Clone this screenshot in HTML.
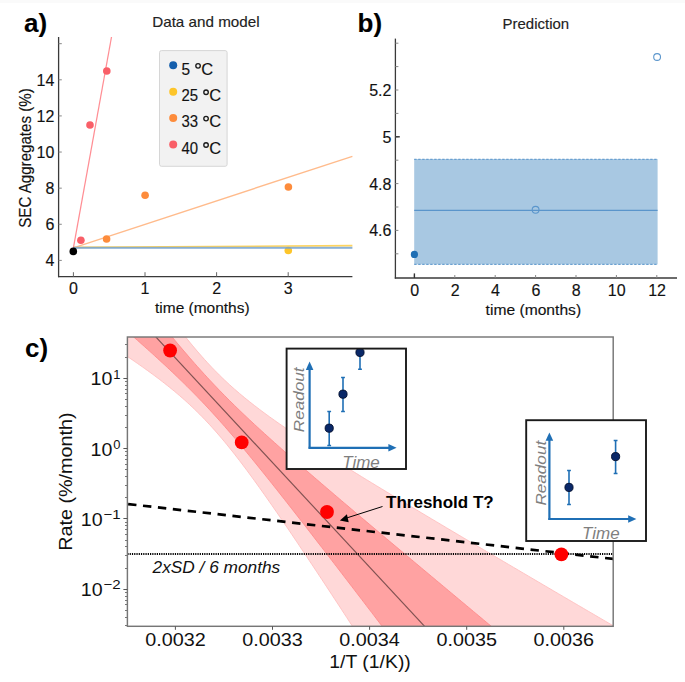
<!DOCTYPE html>
<html><head><meta charset="utf-8"><style>
html,body{margin:0;padding:0;background:#fff;width:685px;height:682px;overflow:hidden}
svg{display:block;font-family:"Liberation Sans",sans-serif}
.t text{stroke:#222;stroke-width:0.15px}
</style></head><body>
<svg width="685" height="682" viewBox="0 0 685 682" font-family="Liberation Sans, sans-serif"><rect x="0" y="0" width="685" height="3" fill="#fafafa"/>
<g class="t">
<text x="24.00" y="31.80" font-size="26" text-anchor="start" font-weight="bold" font-style="normal" fill="#000" >a)</text>
<text x="152.20" y="27.00" font-size="15" text-anchor="start" font-weight="normal" font-style="normal" fill="#222" textLength="107.4" lengthAdjust="spacingAndGlyphs" >Data and model</text>
<line x1="73.40" y1="247.40" x2="352.40" y2="245.60" stroke="#ffd45e" stroke-width="1.6" />
<line x1="73.40" y1="247.80" x2="352.40" y2="156.30" stroke="#ffbb8c" stroke-width="1.35" />
<line x1="73.40" y1="247.80" x2="111.50" y2="37.00" stroke="#ff8e94" stroke-width="1.25" />
<circle cx="80.90" cy="240.30" r="3.8" fill="#f95f68" />
<circle cx="90.00" cy="125.00" r="3.8" fill="#f95f68" />
<circle cx="106.80" cy="71.00" r="3.8" fill="#f95f68" />
<circle cx="106.60" cy="239.00" r="3.8" fill="#fd8c3c" />
<circle cx="145.10" cy="195.20" r="3.8" fill="#fd8c3c" />
<circle cx="288.40" cy="187.00" r="3.8" fill="#fd8c3c" />
<circle cx="288.30" cy="250.50" r="3.8" fill="#fdc52a" />
<rect x="73.4" y="246.8" width="279" height="2" fill="#76a3d0" fill-opacity="0.85"/>
<circle cx="73.30" cy="251.40" r="3.8" fill="#000" />
<line x1="58.60" y1="37.00" x2="58.60" y2="277.20" stroke="#3a3a3a" stroke-width="1.3" />
<line x1="58.00" y1="276.60" x2="352.40" y2="276.60" stroke="#3a3a3a" stroke-width="1.3" />
<line x1="58.60" y1="260.40" x2="61.80" y2="260.40" stroke="#888" stroke-width="1" />
<line x1="58.60" y1="224.28" x2="61.80" y2="224.28" stroke="#888" stroke-width="1" />
<line x1="58.60" y1="188.16" x2="61.80" y2="188.16" stroke="#888" stroke-width="1" />
<line x1="58.60" y1="152.04" x2="61.80" y2="152.04" stroke="#888" stroke-width="1" />
<line x1="58.60" y1="115.92" x2="61.80" y2="115.92" stroke="#888" stroke-width="1" />
<line x1="58.60" y1="79.80" x2="61.80" y2="79.80" stroke="#888" stroke-width="1" />
<line x1="58.60" y1="43.68" x2="61.80" y2="43.68" stroke="#888" stroke-width="1" />
<line x1="73.40" y1="272.20" x2="73.40" y2="276.60" stroke="#666" stroke-width="1" />
<line x1="145.00" y1="272.20" x2="145.00" y2="276.60" stroke="#666" stroke-width="1" />
<line x1="216.60" y1="272.20" x2="216.60" y2="276.60" stroke="#666" stroke-width="1" />
<line x1="288.20" y1="272.20" x2="288.20" y2="276.60" stroke="#666" stroke-width="1" />
<text x="54.40" y="266.30" font-size="16" text-anchor="end" font-weight="normal" font-style="normal" fill="#111" >4</text>
<text x="54.40" y="230.18" font-size="16" text-anchor="end" font-weight="normal" font-style="normal" fill="#111" >6</text>
<text x="54.40" y="194.06" font-size="16" text-anchor="end" font-weight="normal" font-style="normal" fill="#111" >8</text>
<text x="54.40" y="157.94" font-size="16" text-anchor="end" font-weight="normal" font-style="normal" fill="#111" >10</text>
<text x="54.40" y="121.82" font-size="16" text-anchor="end" font-weight="normal" font-style="normal" fill="#111" >12</text>
<text x="54.40" y="85.70" font-size="16" text-anchor="end" font-weight="normal" font-style="normal" fill="#111" >14</text>
<text x="73.40" y="293.80" font-size="16" text-anchor="middle" font-weight="normal" font-style="normal" fill="#111" >0</text>
<text x="145.00" y="293.80" font-size="16" text-anchor="middle" font-weight="normal" font-style="normal" fill="#111" >1</text>
<text x="216.60" y="293.80" font-size="16" text-anchor="middle" font-weight="normal" font-style="normal" fill="#111" >2</text>
<text x="288.20" y="293.80" font-size="16" text-anchor="middle" font-weight="normal" font-style="normal" fill="#111" >3</text>
<text x="155.00" y="313.00" font-size="14.5" text-anchor="start" font-weight="normal" font-style="normal" fill="#111" textLength="94.6" lengthAdjust="spacingAndGlyphs" >time (months)</text>
<text transform="translate(31.3,158) rotate(-90)" x="0" y="0" font-size="16.3" text-anchor="middle" fill="#111" textLength="139.5" lengthAdjust="spacingAndGlyphs">SEC Aggregates (%)</text>
<rect x="159.5" y="50.6" width="67.6" height="115.7" rx="2" fill="#f2f2f2" stroke="#d6d6d6" stroke-width="1"/>
<circle cx="173.20" cy="65.30" r="4.0" fill="#155fac" />
<text x="181.50" y="74.60" font-size="16.5" text-anchor="start" font-weight="normal" font-style="normal" fill="#111" textLength="8.6" lengthAdjust="spacingAndGlyphs" >5</text>
<circle cx="198.05" cy="65.80" r="2.25" fill="none" stroke="#1a1a1a" stroke-width="1.35"/>
<text x="201.30" y="74.60" font-size="16.5" text-anchor="start" font-weight="normal" font-style="normal" fill="#111" >C</text>
<circle cx="173.20" cy="91.70" r="4.0" fill="#fdc52a" />
<text x="181.50" y="101.00" font-size="16.5" text-anchor="start" font-weight="normal" font-style="normal" fill="#111" textLength="16.6" lengthAdjust="spacingAndGlyphs" >25</text>
<circle cx="206.05" cy="92.20" r="2.25" fill="none" stroke="#1a1a1a" stroke-width="1.35"/>
<text x="209.30" y="101.00" font-size="16.5" text-anchor="start" font-weight="normal" font-style="normal" fill="#111" >C</text>
<circle cx="173.20" cy="118.10" r="4.0" fill="#fd8c3c" />
<text x="181.50" y="127.40" font-size="16.5" text-anchor="start" font-weight="normal" font-style="normal" fill="#111" textLength="16.6" lengthAdjust="spacingAndGlyphs" >33</text>
<circle cx="206.05" cy="118.60" r="2.25" fill="none" stroke="#1a1a1a" stroke-width="1.35"/>
<text x="209.30" y="127.40" font-size="16.5" text-anchor="start" font-weight="normal" font-style="normal" fill="#111" >C</text>
<circle cx="173.20" cy="144.50" r="4.0" fill="#f95f68" />
<text x="181.50" y="153.80" font-size="16.5" text-anchor="start" font-weight="normal" font-style="normal" fill="#111" textLength="16.6" lengthAdjust="spacingAndGlyphs" >40</text>
<circle cx="206.05" cy="145.00" r="2.25" fill="none" stroke="#1a1a1a" stroke-width="1.35"/>
<text x="209.30" y="153.80" font-size="16.5" text-anchor="start" font-weight="normal" font-style="normal" fill="#111" >C</text>
<text x="357.60" y="31.60" font-size="26" text-anchor="start" font-weight="bold" font-style="normal" fill="#000" >b)</text>
<text x="502.60" y="28.60" font-size="15" text-anchor="start" font-weight="normal" font-style="normal" fill="#222" textLength="66.5" lengthAdjust="spacingAndGlyphs" >Prediction</text>
<rect x="414.2" y="159" width="243.4" height="105.4" fill="#a8c8e2"/>
<line x1="414.20" y1="159.40" x2="657.60" y2="159.40" stroke="#6aa0d0" stroke-width="1.3" stroke-dasharray="2.4 1.6"/>
<line x1="414.20" y1="264.30" x2="657.60" y2="264.30" stroke="#6aa0d0" stroke-width="1.3" stroke-dasharray="2.4 1.6"/>
<line x1="414.20" y1="210.40" x2="657.60" y2="210.40" stroke="#5a95cb" stroke-width="1.25" />
<circle cx="414.40" cy="254.40" r="3.6" fill="#1f6fb4" />
<circle cx="535.6" cy="209.8" r="3.4" fill="none" stroke="#5b96cc" stroke-width="1.1"/>
<circle cx="657.1" cy="57" r="3.4" fill="none" stroke="#5b96cc" stroke-width="1.1"/>
<line x1="395.40" y1="38.60" x2="395.40" y2="278.60" stroke="#3a3a3a" stroke-width="1.3" />
<line x1="394.80" y1="278.00" x2="677.00" y2="278.00" stroke="#3a3a3a" stroke-width="1.3" />
<line x1="395.40" y1="253.80" x2="398.40" y2="253.80" stroke="#888" stroke-width="1" />
<line x1="395.40" y1="230.40" x2="398.40" y2="230.40" stroke="#888" stroke-width="1" />
<line x1="395.40" y1="207.00" x2="398.40" y2="207.00" stroke="#888" stroke-width="1" />
<line x1="395.40" y1="183.60" x2="398.40" y2="183.60" stroke="#888" stroke-width="1" />
<line x1="395.40" y1="160.20" x2="398.40" y2="160.20" stroke="#888" stroke-width="1" />
<line x1="395.40" y1="136.80" x2="398.40" y2="136.80" stroke="#888" stroke-width="1" />
<line x1="395.40" y1="113.40" x2="398.40" y2="113.40" stroke="#888" stroke-width="1" />
<line x1="395.40" y1="90.00" x2="398.40" y2="90.00" stroke="#888" stroke-width="1" />
<line x1="395.40" y1="66.60" x2="398.40" y2="66.60" stroke="#888" stroke-width="1" />
<line x1="395.40" y1="43.20" x2="398.40" y2="43.20" stroke="#888" stroke-width="1" />
<line x1="395.40" y1="136.80" x2="399.80" y2="136.80" stroke="#333" stroke-width="1.4" />
<text x="391.40" y="236.30" font-size="16" text-anchor="end" font-weight="normal" font-style="normal" fill="#111" >4.6</text>
<text x="391.40" y="189.50" font-size="16" text-anchor="end" font-weight="normal" font-style="normal" fill="#111" >4.8</text>
<text x="391.40" y="142.70" font-size="16" text-anchor="end" font-weight="normal" font-style="normal" fill="#111" >5</text>
<text x="391.40" y="95.90" font-size="16" text-anchor="end" font-weight="normal" font-style="normal" fill="#111" >5.2</text>
<line x1="414.40" y1="275.00" x2="414.40" y2="278.00" stroke="#888" stroke-width="1" />
<text x="414.70" y="295.60" font-size="16" text-anchor="middle" font-weight="normal" font-style="normal" fill="#111" >0</text>
<line x1="454.80" y1="275.00" x2="454.80" y2="278.00" stroke="#888" stroke-width="1" />
<text x="455.10" y="295.60" font-size="16" text-anchor="middle" font-weight="normal" font-style="normal" fill="#111" >2</text>
<line x1="495.20" y1="275.00" x2="495.20" y2="278.00" stroke="#888" stroke-width="1" />
<text x="495.50" y="295.60" font-size="16" text-anchor="middle" font-weight="normal" font-style="normal" fill="#111" >4</text>
<line x1="535.60" y1="275.00" x2="535.60" y2="278.00" stroke="#888" stroke-width="1" />
<text x="535.90" y="295.60" font-size="16" text-anchor="middle" font-weight="normal" font-style="normal" fill="#111" >6</text>
<line x1="576.00" y1="275.00" x2="576.00" y2="278.00" stroke="#888" stroke-width="1" />
<text x="576.30" y="295.60" font-size="16" text-anchor="middle" font-weight="normal" font-style="normal" fill="#111" >8</text>
<line x1="616.40" y1="275.00" x2="616.40" y2="278.00" stroke="#888" stroke-width="1" />
<text x="616.70" y="295.60" font-size="16" text-anchor="middle" font-weight="normal" font-style="normal" fill="#111" >10</text>
<line x1="656.80" y1="275.00" x2="656.80" y2="278.00" stroke="#888" stroke-width="1" />
<text x="657.10" y="295.60" font-size="16" text-anchor="middle" font-weight="normal" font-style="normal" fill="#111" >12</text>
<line x1="414.40" y1="273.40" x2="414.40" y2="278.00" stroke="#333" stroke-width="1.4" />
<text x="485.60" y="315.00" font-size="14.5" text-anchor="start" font-weight="normal" font-style="normal" fill="#111" textLength="95.5" lengthAdjust="spacingAndGlyphs" >time (months)</text>
</g>
<text x="25.00" y="357.00" font-size="26" text-anchor="start" font-weight="bold" font-style="normal" fill="#000" >c)</text>
<clipPath id="cc"><rect x="127.4" y="337" width="485.80000000000007" height="289.29999999999995"/></clipPath>
<g clip-path="url(#cc)">
<path d="M122.40,248.71 L124.89,252.41 L127.38,256.09 L129.87,259.77 L132.37,263.43 L134.86,267.08 L137.35,270.72 L139.84,274.35 L142.33,277.96 L144.82,281.55 L147.31,285.13 L149.81,288.69 L152.30,292.23 L154.79,295.75 L157.28,299.25 L159.77,302.73 L162.26,306.18 L164.75,309.61 L167.25,313.01 L169.74,316.38 L172.23,319.72 L174.72,323.03 L177.21,326.30 L179.70,329.54 L182.19,332.74 L184.69,335.90 L187.18,339.02 L189.67,342.10 L192.16,345.13 L194.65,348.12 L197.14,351.05 L199.64,353.94 L202.13,356.78 L204.62,359.57 L207.11,362.31 L209.60,364.99 L212.09,367.63 L214.58,370.21 L217.08,372.74 L219.57,375.23 L222.06,377.66 L224.55,380.04 L227.04,382.38 L229.53,384.68 L232.02,386.93 L234.52,389.14 L237.01,391.31 L239.50,393.44 L241.99,395.53 L244.48,397.59 L246.97,399.62 L249.46,401.62 L251.96,403.59 L254.45,405.53 L256.94,407.45 L259.43,409.34 L261.92,411.21 L264.41,413.05 L266.90,414.88 L269.40,416.69 L271.89,418.48 L274.38,420.25 L276.87,422.01 L279.36,423.75 L281.85,425.48 L284.34,427.20 L286.84,428.90 L289.33,430.59 L291.82,432.27 L294.31,433.94 L296.80,435.61 L299.29,437.26 L301.78,438.90 L304.28,440.54 L306.77,442.16 L309.26,443.78 L311.75,445.40 L314.24,447.01 L316.73,448.61 L319.23,450.20 L321.72,451.79 L324.21,453.37 L326.70,454.95 L329.19,456.53 L331.68,458.10 L334.17,459.66 L336.67,461.22 L339.16,462.78 L341.65,464.34 L344.14,465.89 L346.63,467.43 L349.12,468.98 L351.61,470.52 L354.11,472.05 L356.60,473.59 L359.09,475.12 L361.58,476.65 L364.07,478.18 L366.56,479.70 L369.05,481.22 L371.55,482.74 L374.04,484.26 L376.53,485.78 L379.02,487.29 L381.51,488.80 L384.00,490.31 L386.49,491.82 L388.99,493.33 L391.48,494.83 L393.97,496.33 L396.46,497.84 L398.95,499.34 L401.44,500.84 L403.93,502.33 L406.43,503.83 L408.92,505.32 L411.41,506.82 L413.90,508.31 L416.39,509.80 L418.88,511.29 L421.37,512.78 L423.87,514.27 L426.36,515.76 L428.85,517.25 L431.34,518.73 L433.83,520.22 L436.32,521.70 L438.82,523.18 L441.31,524.67 L443.80,526.15 L446.29,527.63 L448.78,529.11 L451.27,530.59 L453.76,532.06 L456.26,533.54 L458.75,535.02 L461.24,536.50 L463.73,537.97 L466.22,539.45 L468.71,540.92 L471.20,542.39 L473.70,543.87 L476.19,545.34 L478.68,546.81 L481.17,548.29 L483.66,549.76 L486.15,551.23 L488.64,552.70 L491.14,554.17 L493.63,555.64 L496.12,557.11 L498.61,558.57 L501.10,560.04 L503.59,561.51 L506.08,562.98 L508.58,564.44 L511.07,565.91 L513.56,567.38 L516.05,568.84 L518.54,570.31 L521.03,571.77 L523.52,573.24 L526.02,574.70 L528.51,576.16 L531.00,577.63 L533.49,579.09 L535.98,580.55 L538.47,582.02 L540.96,583.48 L543.46,584.94 L545.95,586.40 L548.44,587.87 L550.93,589.33 L553.42,590.79 L555.91,592.25 L558.41,593.71 L560.90,595.17 L563.39,596.63 L565.88,598.09 L568.37,599.55 L570.86,601.01 L573.35,602.47 L575.85,603.93 L578.34,605.38 L580.83,606.84 L583.32,608.30 L585.81,609.76 L588.30,611.22 L590.79,612.67 L593.29,614.13 L595.78,615.59 L598.27,617.05 L600.76,618.50 L603.25,619.96 L605.74,621.42 L608.23,622.87 L610.73,624.33 L613.22,625.79 L615.71,627.24 L618.20,628.70 L618.20,1040.92 L615.71,1037.01 L613.22,1033.10 L610.73,1029.19 L608.23,1025.28 L605.74,1021.38 L603.25,1017.47 L600.76,1013.56 L598.27,1009.65 L595.78,1005.74 L593.29,1001.83 L590.79,997.92 L588.30,994.02 L585.81,990.11 L583.32,986.20 L580.83,982.29 L578.34,978.39 L575.85,974.48 L573.35,970.57 L570.86,966.67 L568.37,962.76 L565.88,958.85 L563.39,954.95 L560.90,951.04 L558.41,947.14 L555.91,943.23 L553.42,939.33 L550.93,935.42 L548.44,931.52 L545.95,927.61 L543.46,923.71 L540.96,919.81 L538.47,915.90 L535.98,912.00 L533.49,908.10 L531.00,904.20 L528.51,900.29 L526.02,896.39 L523.52,892.49 L521.03,888.59 L518.54,884.69 L516.05,880.79 L513.56,876.89 L511.07,872.99 L508.58,869.09 L506.08,865.19 L503.59,861.29 L501.10,857.39 L498.61,853.50 L496.12,849.60 L493.63,845.70 L491.14,841.81 L488.64,837.91 L486.15,834.02 L483.66,830.12 L481.17,826.23 L478.68,822.33 L476.19,818.44 L473.70,814.55 L471.20,810.65 L468.71,806.76 L466.22,802.87 L463.73,798.98 L461.24,795.09 L458.75,791.20 L456.26,787.31 L453.76,783.43 L451.27,779.54 L448.78,775.65 L446.29,771.77 L443.80,767.88 L441.31,764.00 L438.82,760.11 L436.32,756.23 L433.83,752.35 L431.34,748.47 L428.85,744.59 L426.36,740.71 L423.87,736.83 L421.37,732.95 L418.88,729.08 L416.39,725.20 L413.90,721.33 L411.41,717.46 L408.92,713.58 L406.43,709.71 L403.93,705.84 L401.44,701.98 L398.95,698.11 L396.46,694.24 L393.97,690.38 L391.48,686.52 L388.99,682.66 L386.49,678.80 L384.00,674.94 L381.51,671.09 L379.02,667.23 L376.53,663.38 L374.04,659.53 L371.55,655.68 L369.05,651.84 L366.56,647.99 L364.07,644.15 L361.58,640.31 L359.09,636.48 L356.60,632.64 L354.11,628.81 L351.61,624.98 L349.12,621.16 L346.63,617.34 L344.14,613.52 L341.65,609.70 L339.16,605.89 L336.67,602.08 L334.17,598.28 L331.68,594.48 L329.19,590.68 L326.70,586.89 L324.21,583.10 L321.72,579.32 L319.23,575.55 L316.73,571.78 L314.24,568.01 L311.75,564.25 L309.26,560.50 L306.77,556.75 L304.28,553.02 L301.78,549.29 L299.29,545.56 L296.80,541.85 L294.31,538.15 L291.82,534.45 L289.33,530.77 L286.84,527.09 L284.34,523.43 L281.85,519.78 L279.36,516.15 L276.87,512.52 L274.38,508.92 L271.89,505.32 L269.40,501.75 L266.90,498.19 L264.41,494.65 L261.92,491.13 L259.43,487.64 L256.94,484.16 L254.45,480.71 L251.96,477.29 L249.46,473.89 L246.97,470.52 L244.48,467.19 L241.99,463.88 L239.50,460.61 L237.01,457.38 L234.52,454.18 L232.02,451.02 L229.53,447.91 L227.04,444.84 L224.55,441.81 L222.06,438.83 L219.57,435.90 L217.08,433.01 L214.58,430.18 L212.09,427.40 L209.60,424.67 L207.11,421.99 L204.62,419.36 L202.13,416.78 L199.64,414.26 L197.14,411.78 L194.65,409.35 L192.16,406.97 L189.67,404.64 L187.18,402.35 L184.69,400.10 L182.19,397.90 L179.70,395.73 L177.21,393.61 L174.72,391.52 L172.23,389.46 L169.74,387.43 L167.25,385.44 L164.75,383.47 L162.26,381.54 L159.77,379.62 L157.28,377.73 L154.79,375.87 L152.30,374.02 L149.81,372.20 L147.31,370.39 L144.82,368.61 L142.33,366.83 L139.84,365.08 L137.35,363.34 L134.86,361.61 L132.37,359.89 L129.87,358.19 L127.38,356.50 L124.89,354.82 L122.40,353.15Z" fill="#ffd8d8" stroke="#ffc0c0" stroke-width="0.9"/>
<path d="M122.40,274.78 L124.89,277.97 L127.38,281.16 L129.87,284.33 L132.37,287.51 L134.86,290.68 L137.35,293.84 L139.84,296.99 L142.33,300.14 L144.82,303.28 L147.31,306.41 L149.81,309.53 L152.30,312.65 L154.79,315.75 L157.28,318.84 L159.77,321.92 L162.26,324.99 L164.75,328.05 L167.25,331.10 L169.74,334.12 L172.23,337.14 L174.72,340.14 L177.21,343.12 L179.70,346.08 L182.19,349.02 L184.69,351.95 L187.18,354.85 L189.67,357.74 L192.16,360.60 L194.65,363.43 L197.14,366.25 L199.64,369.04 L202.13,371.80 L204.62,374.54 L207.11,377.25 L209.60,379.94 L212.09,382.60 L214.58,385.24 L217.08,387.85 L219.57,390.43 L222.06,392.99 L224.55,395.53 L227.04,398.04 L229.53,400.53 L232.02,403.00 L234.52,405.45 L237.01,407.88 L239.50,410.29 L241.99,412.68 L244.48,415.05 L246.97,417.41 L249.46,419.75 L251.96,422.08 L254.45,424.39 L256.94,426.69 L259.43,428.98 L261.92,431.26 L264.41,433.52 L266.90,435.78 L269.40,438.03 L271.89,440.26 L274.38,442.49 L276.87,444.71 L279.36,446.93 L281.85,449.13 L284.34,451.33 L286.84,453.53 L289.33,455.72 L291.82,457.90 L294.31,460.08 L296.80,462.25 L299.29,464.42 L301.78,466.58 L304.28,468.74 L306.77,470.89 L309.26,473.05 L311.75,475.19 L314.24,477.34 L316.73,479.48 L319.23,481.62 L321.72,483.76 L324.21,485.89 L326.70,488.02 L329.19,490.15 L331.68,492.28 L334.17,494.40 L336.67,496.52 L339.16,498.64 L341.65,500.76 L344.14,502.88 L346.63,504.99 L349.12,507.11 L351.61,509.22 L354.11,511.33 L356.60,513.44 L359.09,515.55 L361.58,517.65 L364.07,519.76 L366.56,521.86 L369.05,523.96 L371.55,526.07 L374.04,528.17 L376.53,530.26 L379.02,532.36 L381.51,534.46 L384.00,536.56 L386.49,538.65 L388.99,540.75 L391.48,542.84 L393.97,544.94 L396.46,547.03 L398.95,549.12 L401.44,551.21 L403.93,553.30 L406.43,555.39 L408.92,557.48 L411.41,559.57 L413.90,561.66 L416.39,563.74 L418.88,565.83 L421.37,567.92 L423.87,570.00 L426.36,572.09 L428.85,574.17 L431.34,576.26 L433.83,578.34 L436.32,580.42 L438.82,582.51 L441.31,584.59 L443.80,586.67 L446.29,588.75 L448.78,590.84 L451.27,592.92 L453.76,595.00 L456.26,597.08 L458.75,599.16 L461.24,601.24 L463.73,603.32 L466.22,605.40 L468.71,607.47 L471.20,609.55 L473.70,611.63 L476.19,613.71 L478.68,615.79 L481.17,617.86 L483.66,619.94 L486.15,622.02 L488.64,624.10 L491.14,626.17 L493.63,628.25 L496.12,630.32 L498.61,632.40 L501.10,634.47 L503.59,636.55 L506.08,638.63 L508.58,640.70 L511.07,642.78 L513.56,644.85 L516.05,646.92 L518.54,649.00 L521.03,651.07 L523.52,653.15 L526.02,655.22 L528.51,657.29 L531.00,659.37 L533.49,661.44 L535.98,663.51 L538.47,665.59 L540.96,667.66 L543.46,669.73 L545.95,671.80 L548.44,673.88 L550.93,675.95 L553.42,678.02 L555.91,680.09 L558.41,682.16 L560.90,684.24 L563.39,686.31 L565.88,688.38 L568.37,690.45 L570.86,692.52 L573.35,694.59 L575.85,696.66 L578.34,698.73 L580.83,700.80 L583.32,702.88 L585.81,704.95 L588.30,707.02 L590.79,709.09 L593.29,711.16 L595.78,713.23 L598.27,715.30 L600.76,717.37 L603.25,719.44 L605.74,721.51 L608.23,723.58 L610.73,725.65 L613.22,727.72 L615.71,729.79 L618.20,731.85 L618.20,937.77 L615.71,934.47 L613.22,931.17 L610.73,927.88 L608.23,924.58 L605.74,921.29 L603.25,917.99 L600.76,914.69 L598.27,911.40 L595.78,908.10 L593.29,904.81 L590.79,901.51 L588.30,898.22 L585.81,894.92 L583.32,891.63 L580.83,888.33 L578.34,885.04 L575.85,881.74 L573.35,878.45 L570.86,875.15 L568.37,871.86 L565.88,868.56 L563.39,865.27 L560.90,861.98 L558.41,858.68 L555.91,855.39 L553.42,852.09 L550.93,848.80 L548.44,845.51 L545.95,842.21 L543.46,838.92 L540.96,835.63 L538.47,832.33 L535.98,829.04 L533.49,825.75 L531.00,822.46 L528.51,819.16 L526.02,815.87 L523.52,812.58 L521.03,809.29 L518.54,806.00 L516.05,802.71 L513.56,799.41 L511.07,796.12 L508.58,792.83 L506.08,789.54 L503.59,786.25 L501.10,782.96 L498.61,779.67 L496.12,776.38 L493.63,773.09 L491.14,769.80 L488.64,766.51 L486.15,763.22 L483.66,759.94 L481.17,756.65 L478.68,753.36 L476.19,750.07 L473.70,746.78 L471.20,743.50 L468.71,740.21 L466.22,736.92 L463.73,733.64 L461.24,730.35 L458.75,727.06 L456.26,723.78 L453.76,720.49 L451.27,717.21 L448.78,713.92 L446.29,710.64 L443.80,707.36 L441.31,704.07 L438.82,700.79 L436.32,697.51 L433.83,694.22 L431.34,690.94 L428.85,687.66 L426.36,684.38 L423.87,681.10 L421.37,677.82 L418.88,674.54 L416.39,671.26 L413.90,667.98 L411.41,664.71 L408.92,661.43 L406.43,658.15 L403.93,654.88 L401.44,651.60 L398.95,648.33 L396.46,645.05 L393.97,641.78 L391.48,638.51 L388.99,635.24 L386.49,631.97 L384.00,628.70 L381.51,625.43 L379.02,622.16 L376.53,618.89 L374.04,615.62 L371.55,612.36 L369.05,609.10 L366.56,605.83 L364.07,602.57 L361.58,599.31 L359.09,596.05 L356.60,592.79 L354.11,589.54 L351.61,586.28 L349.12,583.03 L346.63,579.77 L344.14,576.52 L341.65,573.27 L339.16,570.03 L336.67,566.78 L334.17,563.54 L331.68,560.30 L329.19,557.06 L326.70,553.82 L324.21,550.59 L321.72,547.36 L319.23,544.13 L316.73,540.90 L314.24,537.68 L311.75,534.46 L309.26,531.24 L306.77,528.02 L304.28,524.81 L301.78,521.61 L299.29,518.41 L296.80,515.21 L294.31,512.02 L291.82,508.83 L289.33,505.64 L286.84,502.47 L284.34,499.29 L281.85,496.13 L279.36,492.97 L276.87,489.82 L274.38,486.67 L271.89,483.54 L269.40,480.41 L266.90,477.29 L264.41,474.18 L261.92,471.08 L259.43,467.99 L256.94,464.91 L254.45,461.85 L251.96,458.80 L249.46,455.76 L246.97,452.73 L244.48,449.73 L241.99,446.73 L239.50,443.76 L237.01,440.80 L234.52,437.86 L232.02,434.95 L229.53,432.05 L227.04,429.18 L224.55,426.32 L222.06,423.49 L219.57,420.69 L217.08,417.91 L214.58,415.15 L212.09,412.42 L209.60,409.72 L207.11,407.04 L204.62,404.39 L202.13,401.76 L199.64,399.16 L197.14,396.59 L194.65,394.03 L192.16,391.50 L189.67,389.00 L187.18,386.52 L184.69,384.05 L182.19,381.61 L179.70,379.19 L177.21,376.79 L174.72,374.41 L172.23,372.04 L169.74,369.69 L167.25,367.35 L164.75,365.03 L162.26,362.72 L159.77,360.42 L157.28,358.14 L154.79,355.87 L152.30,353.60 L149.81,351.35 L147.31,349.11 L144.82,346.87 L142.33,344.65 L139.84,342.43 L137.35,340.22 L134.86,338.02 L132.37,335.82 L129.87,333.63 L127.38,331.44 L124.89,329.26 L122.40,327.08Z" fill="#ffa2a2" stroke="#ff8c8c" stroke-width="0.9"/>
<line x1="122.40" y1="300.93" x2="613.20" y2="829.43" stroke="#000" stroke-width="1.15" stroke-opacity="0.5"/>
<line x1="127.40" y1="554.10" x2="613.20" y2="554.10" stroke="#000" stroke-width="2" stroke-dasharray="1.2 1.06"/>
<line x1="127.40" y1="504.00" x2="613.20" y2="558.90" stroke="#000" stroke-width="2.7" stroke-dasharray="8.4 6.6" stroke-dashoffset="-0.7"/>
</g>
<circle cx="170.10" cy="350.50" r="6.9" fill="#ff0000" />
<circle cx="241.70" cy="442.40" r="6.9" fill="#ff0000" />
<circle cx="327.00" cy="512.00" r="6.9" fill="#ff0000" />
<circle cx="561.40" cy="554.30" r="6.9" fill="#ff0000" />
<rect x="127.4" y="337" width="485.80000000000007" height="289.29999999999995" fill="none" stroke="#767676" stroke-width="1.45"/>
<line x1="125.00" y1="625.50" x2="127.40" y2="625.50" stroke="#777" stroke-width="1" />
<line x1="125.00" y1="617.50" x2="127.40" y2="617.50" stroke="#777" stroke-width="1" />
<line x1="125.00" y1="610.50" x2="127.40" y2="610.50" stroke="#777" stroke-width="1" />
<line x1="125.00" y1="604.50" x2="127.40" y2="604.50" stroke="#777" stroke-width="1" />
<line x1="125.00" y1="600.50" x2="127.40" y2="600.50" stroke="#777" stroke-width="1" />
<line x1="125.00" y1="596.50" x2="127.40" y2="596.50" stroke="#777" stroke-width="1" />
<line x1="125.00" y1="592.50" x2="127.40" y2="592.50" stroke="#777" stroke-width="1" />
<line x1="123.40" y1="589.50" x2="127.40" y2="589.50" stroke="#555" stroke-width="1" />
<line x1="125.00" y1="568.50" x2="127.40" y2="568.50" stroke="#777" stroke-width="1" />
<line x1="125.00" y1="555.50" x2="127.40" y2="555.50" stroke="#777" stroke-width="1" />
<line x1="125.00" y1="546.50" x2="127.40" y2="546.50" stroke="#777" stroke-width="1" />
<line x1="125.00" y1="540.50" x2="127.40" y2="540.50" stroke="#777" stroke-width="1" />
<line x1="125.00" y1="534.50" x2="127.40" y2="534.50" stroke="#777" stroke-width="1" />
<line x1="125.00" y1="529.50" x2="127.40" y2="529.50" stroke="#777" stroke-width="1" />
<line x1="125.00" y1="525.50" x2="127.40" y2="525.50" stroke="#777" stroke-width="1" />
<line x1="125.00" y1="522.50" x2="127.40" y2="522.50" stroke="#777" stroke-width="1" />
<line x1="123.40" y1="518.50" x2="127.40" y2="518.50" stroke="#555" stroke-width="1" />
<line x1="125.00" y1="497.50" x2="127.40" y2="497.50" stroke="#777" stroke-width="1" />
<line x1="125.00" y1="485.50" x2="127.40" y2="485.50" stroke="#777" stroke-width="1" />
<line x1="125.00" y1="476.50" x2="127.40" y2="476.50" stroke="#777" stroke-width="1" />
<line x1="125.00" y1="469.50" x2="127.40" y2="469.50" stroke="#777" stroke-width="1" />
<line x1="125.00" y1="464.50" x2="127.40" y2="464.50" stroke="#777" stroke-width="1" />
<line x1="125.00" y1="459.50" x2="127.40" y2="459.50" stroke="#777" stroke-width="1" />
<line x1="125.00" y1="455.50" x2="127.40" y2="455.50" stroke="#777" stroke-width="1" />
<line x1="125.00" y1="451.50" x2="127.40" y2="451.50" stroke="#777" stroke-width="1" />
<line x1="123.40" y1="448.50" x2="127.40" y2="448.50" stroke="#555" stroke-width="1" />
<line x1="125.00" y1="427.50" x2="127.40" y2="427.50" stroke="#777" stroke-width="1" />
<line x1="125.00" y1="415.50" x2="127.40" y2="415.50" stroke="#777" stroke-width="1" />
<line x1="125.00" y1="406.50" x2="127.40" y2="406.50" stroke="#777" stroke-width="1" />
<line x1="125.00" y1="399.50" x2="127.40" y2="399.50" stroke="#777" stroke-width="1" />
<line x1="125.00" y1="393.50" x2="127.40" y2="393.50" stroke="#777" stroke-width="1" />
<line x1="125.00" y1="389.50" x2="127.40" y2="389.50" stroke="#777" stroke-width="1" />
<line x1="125.00" y1="385.50" x2="127.40" y2="385.50" stroke="#777" stroke-width="1" />
<line x1="125.00" y1="381.50" x2="127.40" y2="381.50" stroke="#777" stroke-width="1" />
<line x1="123.40" y1="378.50" x2="127.40" y2="378.50" stroke="#555" stroke-width="1" />
<line x1="125.00" y1="357.50" x2="127.40" y2="357.50" stroke="#777" stroke-width="1" />
<line x1="125.00" y1="344.50" x2="127.40" y2="344.50" stroke="#777" stroke-width="1" />
<text x="90.50" y="385.20" font-size="19" text-anchor="start" font-weight="normal" font-style="normal" fill="#111" textLength="21.8" lengthAdjust="spacingAndGlyphs" >10</text>
<text x="113.20" y="378.50" font-size="13" text-anchor="start" font-weight="normal" font-style="normal" fill="#111" textLength="7.2" lengthAdjust="spacingAndGlyphs" >1</text>
<text x="90.50" y="455.50" font-size="19" text-anchor="start" font-weight="normal" font-style="normal" fill="#111" textLength="21.8" lengthAdjust="spacingAndGlyphs" >10</text>
<text x="113.20" y="448.80" font-size="13" text-anchor="start" font-weight="normal" font-style="normal" fill="#111" textLength="7.2" lengthAdjust="spacingAndGlyphs" >0</text>
<text x="80.80" y="525.80" font-size="19" text-anchor="start" font-weight="normal" font-style="normal" fill="#111" textLength="21.8" lengthAdjust="spacingAndGlyphs" >10</text>
<text x="103.40" y="519.10" font-size="13" text-anchor="start" font-weight="normal" font-style="normal" fill="#111" textLength="17.2" lengthAdjust="spacingAndGlyphs" >−1</text>
<text x="80.80" y="596.10" font-size="19" text-anchor="start" font-weight="normal" font-style="normal" fill="#111" textLength="21.8" lengthAdjust="spacingAndGlyphs" >10</text>
<text x="103.40" y="589.40" font-size="13" text-anchor="start" font-weight="normal" font-style="normal" fill="#111" textLength="17.2" lengthAdjust="spacingAndGlyphs" >−2</text>
<line x1="175.40" y1="626.30" x2="175.40" y2="629.80" stroke="#555" stroke-width="1" />
<text x="175.40" y="646.30" font-size="18.5" text-anchor="middle" font-weight="normal" font-style="normal" fill="#111" textLength="60.5" lengthAdjust="spacingAndGlyphs" >0.0032</text>
<line x1="272.50" y1="626.30" x2="272.50" y2="629.80" stroke="#555" stroke-width="1" />
<text x="272.50" y="646.30" font-size="18.5" text-anchor="middle" font-weight="normal" font-style="normal" fill="#111" textLength="60.5" lengthAdjust="spacingAndGlyphs" >0.0033</text>
<line x1="369.60" y1="626.30" x2="369.60" y2="629.80" stroke="#555" stroke-width="1" />
<text x="369.60" y="646.30" font-size="18.5" text-anchor="middle" font-weight="normal" font-style="normal" fill="#111" textLength="60.5" lengthAdjust="spacingAndGlyphs" >0.0034</text>
<line x1="466.70" y1="626.30" x2="466.70" y2="629.80" stroke="#555" stroke-width="1" />
<text x="466.70" y="646.30" font-size="18.5" text-anchor="middle" font-weight="normal" font-style="normal" fill="#111" textLength="60.5" lengthAdjust="spacingAndGlyphs" >0.0035</text>
<line x1="563.80" y1="626.30" x2="563.80" y2="629.80" stroke="#555" stroke-width="1" />
<text x="563.80" y="646.30" font-size="18.5" text-anchor="middle" font-weight="normal" font-style="normal" fill="#111" textLength="60.5" lengthAdjust="spacingAndGlyphs" >0.0036</text>
<text x="329.30" y="667.70" font-size="19" text-anchor="start" font-weight="normal" font-style="normal" fill="#111" textLength="81.5" lengthAdjust="spacingAndGlyphs" >1/T (1/K))</text>
<text transform="translate(71.5,481.6) rotate(-90)" x="0" y="0" font-size="19" text-anchor="middle" fill="#111" textLength="138.5" lengthAdjust="spacingAndGlyphs">Rate (%/month)</text>
<text x="152.60" y="572.50" font-size="16.5" text-anchor="start" font-weight="normal" font-style="italic" fill="#111" textLength="127.6" lengthAdjust="spacingAndGlyphs" >2xSD / 6 months</text>
<text x="386.10" y="507.80" font-size="16.5" text-anchor="start" font-weight="bold" font-style="normal" fill="#000" textLength="107.6" lengthAdjust="spacingAndGlyphs" >Threshold T?</text>
<line x1="382.50" y1="506.50" x2="345.00" y2="518.50" stroke="#000" stroke-width="1" />
<path d="M339.9,520.5 L346.9,514.3 L348.7,522.3 Z" fill="#000"/>
<clipPath id="ci1"><rect x="286.6" y="348.6" width="119.39999999999998" height="120.39999999999998"/></clipPath>
<rect x="286.6" y="348.6" width="119.39999999999998" height="120.39999999999998" fill="#fff"/>
<g clip-path="url(#ci1)">
<line x1="309.60" y1="448.80" x2="309.60" y2="368.60" stroke="#1f6fb5" stroke-width="2.2" />
<line x1="308.60" y1="447.80" x2="389.60" y2="447.80" stroke="#1f6fb5" stroke-width="2.2" />
<path d="M309.6,361.6 L305.8,370.0 L313.40000000000003,370.0 Z" fill="#1f6fb5"/>
<path d="M396.6,447.8 L388.40000000000003,444.0 L388.40000000000003,451.6 Z" fill="#1f6fb5"/>
<line x1="329.20" y1="411.40" x2="329.20" y2="445.40" stroke="#1f6fb5" stroke-width="1.6" />
<line x1="327.30" y1="411.40" x2="331.10" y2="411.40" stroke="#1f6fb5" stroke-width="1.5" />
<line x1="327.30" y1="445.40" x2="331.10" y2="445.40" stroke="#1f6fb5" stroke-width="1.5" />
<circle cx="329.20" cy="428.20" r="4.1" fill="#0a2868" stroke="#03102e" stroke-width="0.9"/>
<line x1="343.00" y1="377.60" x2="343.00" y2="411.40" stroke="#1f6fb5" stroke-width="1.6" />
<line x1="341.10" y1="377.60" x2="344.90" y2="377.60" stroke="#1f6fb5" stroke-width="1.5" />
<line x1="341.10" y1="411.40" x2="344.90" y2="411.40" stroke="#1f6fb5" stroke-width="1.5" />
<circle cx="343.00" cy="394.20" r="4.1" fill="#0a2868" stroke="#03102e" stroke-width="0.9"/>
<line x1="360.00" y1="338.00" x2="360.00" y2="369.20" stroke="#1f6fb5" stroke-width="1.6" />
<line x1="358.10" y1="338.00" x2="361.90" y2="338.00" stroke="#1f6fb5" stroke-width="1.5" />
<line x1="358.10" y1="369.20" x2="361.90" y2="369.20" stroke="#1f6fb5" stroke-width="1.5" />
<circle cx="360.00" cy="352.40" r="4.1" fill="#0a2868" stroke="#03102e" stroke-width="0.9"/>
<text transform="translate(304.2,432.2) rotate(-90)" x="0" y="0" font-size="14.8" font-style="italic" fill="#7f7f7f" textLength="64.8" lengthAdjust="spacingAndGlyphs">Readout</text>
<text x="342.20" y="468.20" font-size="15.8" text-anchor="start" font-weight="normal" font-style="italic" fill="#7f7f7f" textLength="37.6" lengthAdjust="spacingAndGlyphs" >Time</text>
</g>
<rect x="286.6" y="348.6" width="119.39999999999998" height="120.39999999999998" fill="none" stroke="#1a1a1a" stroke-width="1.9"/>
<clipPath id="ci2"><rect x="526.2" y="420.2" width="119.79999999999995" height="120.80000000000001"/></clipPath>
<rect x="526.2" y="420.2" width="119.79999999999995" height="120.80000000000001" fill="#fff"/>
<g clip-path="url(#ci2)">
<line x1="549.40" y1="520.00" x2="549.40" y2="439.40" stroke="#1f6fb5" stroke-width="2.2" />
<line x1="548.40" y1="519.00" x2="629.40" y2="519.00" stroke="#1f6fb5" stroke-width="2.2" />
<path d="M549.4,432.4 L545.6,440.79999999999995 L553.1999999999999,440.79999999999995 Z" fill="#1f6fb5"/>
<path d="M636.4,519 L628.1999999999999,515.2 L628.1999999999999,522.8 Z" fill="#1f6fb5"/>
<line x1="569.00" y1="470.60" x2="569.00" y2="504.40" stroke="#1f6fb5" stroke-width="1.6" />
<line x1="567.10" y1="470.60" x2="570.90" y2="470.60" stroke="#1f6fb5" stroke-width="1.5" />
<line x1="567.10" y1="504.40" x2="570.90" y2="504.40" stroke="#1f6fb5" stroke-width="1.5" />
<circle cx="569.00" cy="487.40" r="4.1" fill="#0a2868" stroke="#03102e" stroke-width="0.9"/>
<line x1="615.60" y1="440.40" x2="615.60" y2="473.60" stroke="#1f6fb5" stroke-width="1.6" />
<line x1="613.70" y1="440.40" x2="617.50" y2="440.40" stroke="#1f6fb5" stroke-width="1.5" />
<line x1="613.70" y1="473.60" x2="617.50" y2="473.60" stroke="#1f6fb5" stroke-width="1.5" />
<circle cx="615.60" cy="456.60" r="4.1" fill="#0a2868" stroke="#03102e" stroke-width="0.9"/>
<text transform="translate(546.0,505.6) rotate(-90)" x="0" y="0" font-size="14.8" font-style="italic" fill="#7f7f7f" textLength="64.8" lengthAdjust="spacingAndGlyphs">Readout</text>
<text x="582.10" y="538.80" font-size="15.8" text-anchor="start" font-weight="normal" font-style="italic" fill="#7f7f7f" textLength="37.6" lengthAdjust="spacingAndGlyphs" >Time</text>
</g>
<rect x="526.2" y="420.2" width="119.79999999999995" height="120.80000000000001" fill="none" stroke="#1a1a1a" stroke-width="1.9"/></svg>
</body></html>
